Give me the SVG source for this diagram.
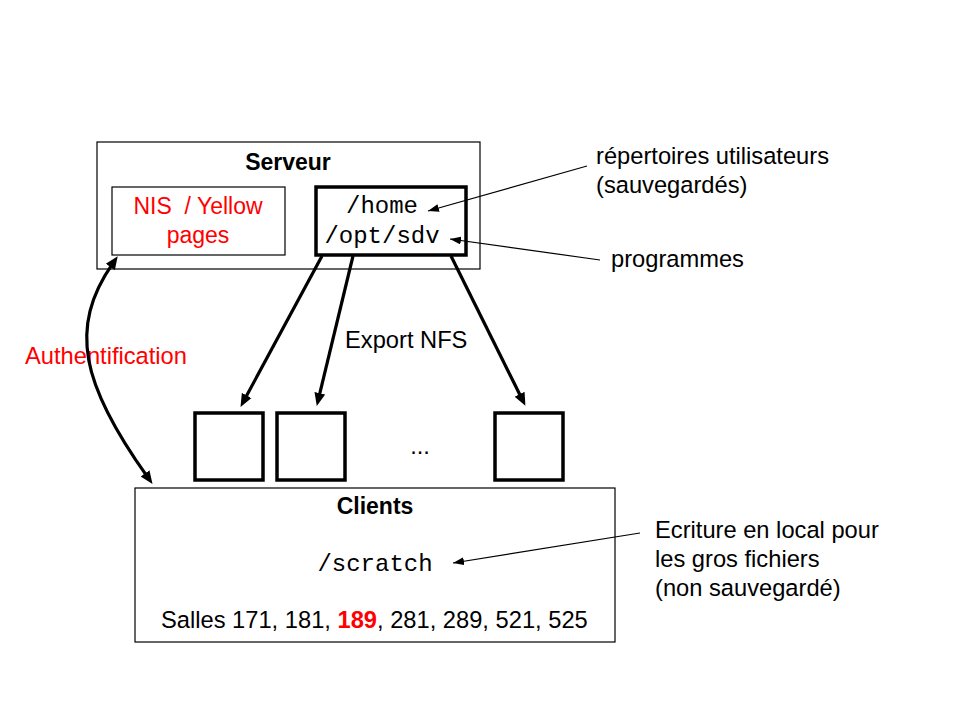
<svg xmlns="http://www.w3.org/2000/svg" width="960" height="720" viewBox="0 0 960 720">
<defs>
<style>
.t{font-family:"Liberation Sans",Arial,sans-serif;font-size:23.7px;fill:#000}
.b{font-weight:bold}
.h{font-size:23px}
.r{fill:#ff0000}
.m{font-family:"Liberation Mono","Courier New",monospace;font-size:24px;fill:#000}
.thin{fill:#fff;stroke:#000;stroke-width:1.2}
.thick{fill:#fff;stroke:#000;stroke-width:3.5}
.c1{fill:none;stroke:#000;stroke-width:1.2}
.c3{fill:none;stroke:#000;stroke-width:3.2}
</style>
<marker id="ah" markerUnits="userSpaceOnUse" markerWidth="14" markerHeight="12" refX="4" refY="5.5" orient="auto-start-reverse" viewBox="0 0 14 11">
<path d="M0,0 L13,5.5 L0,11 z" fill="#000"/>
</marker>
<marker id="as" markerUnits="userSpaceOnUse" markerWidth="11" markerHeight="8" refX="11" refY="4" orient="auto" viewBox="0 0 11 8">
<path d="M0,0 L11,4 L0,8 z" fill="#000"/>
</marker>
</defs>
<rect width="960" height="720" fill="#fff"/>

<g id="serveur">
<rect class="thin" x="97" y="142" width="383" height="127"/>
<text class="t b h" x="288" y="170" text-anchor="middle">Serveur</text>
</g>
<g id="nis">
<rect class="thin" x="112" y="187" width="173" height="68"/>
<text class="t r h" x="198" y="214" text-anchor="middle" xml:space="preserve">NIS  / Yellow</text>
<text class="t r h" x="198" y="243" text-anchor="middle">pages</text>
</g>
<g id="home">
<rect class="thick" x="316" y="187" width="150" height="68"/>
<text class="m" x="382" y="213" text-anchor="middle">/home</text>
<text class="m" x="382" y="243" text-anchor="middle">/opt/sdv</text>
</g>
<g id="client1"><rect class="thick" x="195" y="413" width="68" height="67"/></g>
<g id="client2"><rect class="thick" x="277" y="413" width="68" height="67"/></g>
<g id="clientN"><rect class="thick" x="495" y="413" width="68" height="67"/></g>
<text class="t" x="420" y="454" text-anchor="middle" font-size="16">...</text>
<g id="clients">
<rect class="thin" x="135" y="488" width="480" height="154"/>
<text class="t b h" x="375" y="514" text-anchor="middle">Clients</text>
<text class="m" x="375" y="571" text-anchor="middle">/scratch</text>
<text class="t" x="161" y="628">Salles 171, 181, <tspan class="b r">189</tspan>, 281, 289, 521, 525</text>
</g>
<g id="labels">
<text class="t" x="596" y="164">répertoires utilisateurs</text>
<text class="t" x="596" y="193">(sauvegardés)</text>
<text class="t" x="611" y="267">programmes</text>
<text class="t" x="655" y="538">Ecriture en local pour</text>
<text class="t" x="655" y="567">les gros fichiers</text>
<text class="t" x="655" y="596">(non sauvegardé)</text>
<text class="t" x="345" y="348">Export NFS</text>
<text class="t r" x="25" y="364">Authentification</text>
</g>
<g id="connectors">
<line class="c3" x1="322" y1="256" x2="244.8" y2="399" marker-end="url(#ah)"/>
<line class="c3" x1="353" y1="256" x2="318.9" y2="397.2" marker-end="url(#ah)"/>
<line class="c3" x1="451" y1="256" x2="521.4" y2="397.8" marker-end="url(#ah)"/>
<path class="c3" d="M112.6,263.7 C68,328 82,385 147.3,476.6" marker-start="url(#ah)" marker-end="url(#ah)"/>
<line class="c1" x1="587" y1="166" x2="428" y2="211" marker-end="url(#as)"/>
<line class="c1" x1="600" y1="260" x2="450" y2="239" marker-end="url(#as)"/>
<line class="c1" x1="640" y1="533" x2="453" y2="563" marker-end="url(#as)"/>
</g>
</svg>
